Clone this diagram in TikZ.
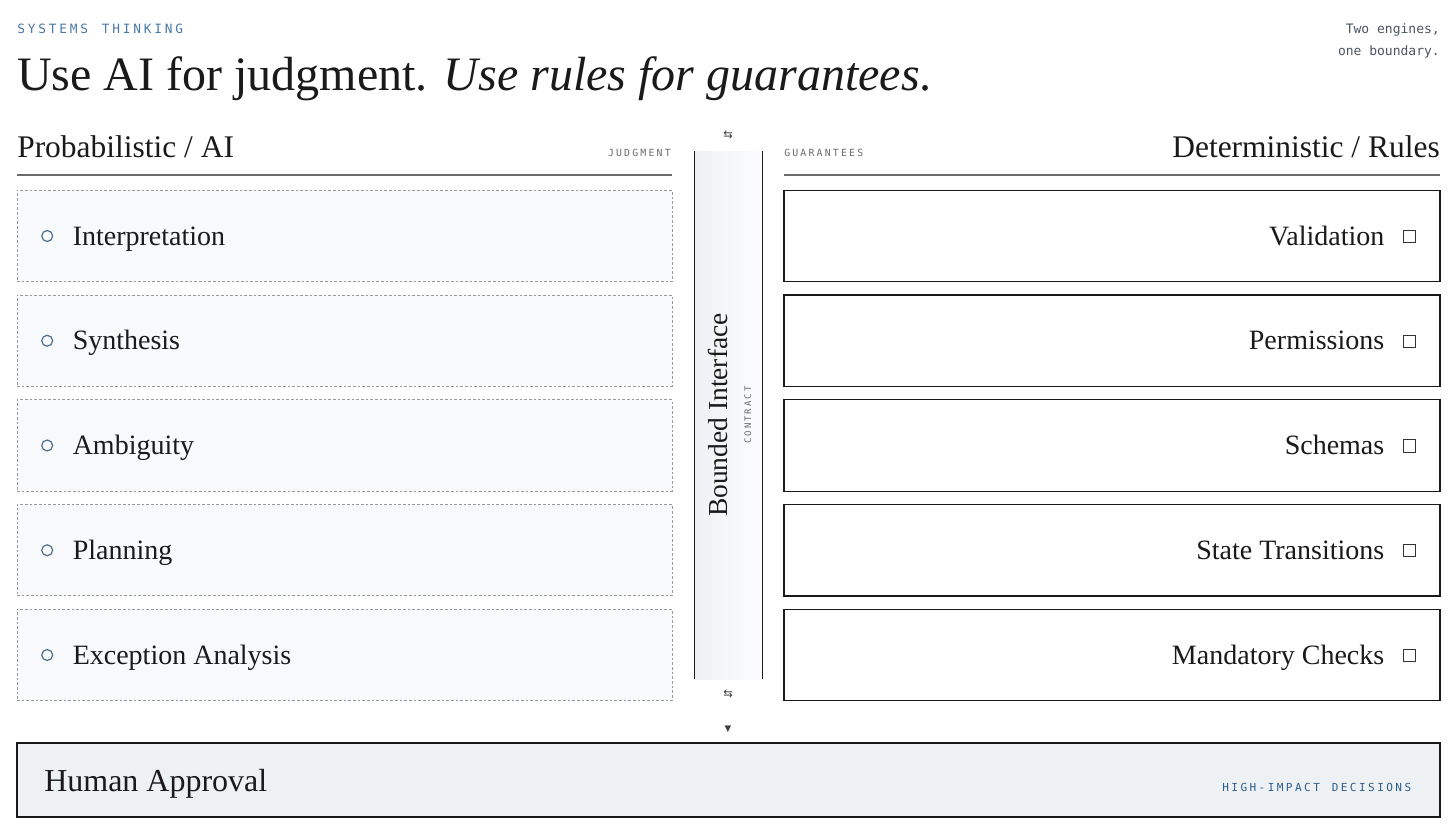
\documentclass[tikz,border=0pt]{standalone}
\usepackage{fontspec}
\setmainfont{Liberation Serif}
\newfontfamily\monofont{DejaVu Sans Mono}
\newfontfamily\tagfont[LetterSpace=22]{DejaVu Sans Mono}
\newfontfamily\symfont{DejaVu Sans}
\usepackage{tikz}
\usetikzlibrary{positioning}
\definecolor{inkblue}{HTML}{4A78A8}
\definecolor{deepblue}{HTML}{2C5C8A}
\definecolor{slate}{HTML}{4B5563}
\definecolor{taggray}{HTML}{6B6B6B}
\definecolor{aifill}{HTML}{F8F9FB}
\definecolor{humanfill}{HTML}{EEF1F4}
\definecolor{ringblue}{HTML}{4F6F8F}
\definecolor{ink}{HTML}{1A1A1A}
\definecolor{rulegray}{HTML}{6A6A6A}
\newcommand\gap{\kern0.25em\ }

\tikzset{
  aibox/.style={draw=black!40, fill=aifill, line width=0.75pt, dash pattern=on 2pt off 1.5pt,
    minimum width=491.25pt, minimum height=68.6pt, inner sep=0pt},
  rulebox/.style={draw=ink, fill=white, line width=0.8pt,
    minimum width=492pt, minimum height=68.6pt, inner sep=0pt},
  item/.style={inner sep=0pt, text=ink, font=\fontsize{21}{24}\selectfont},
  ring/.style={circle, draw=ringblue, line width=0.9pt, minimum size=8.2pt, inner sep=0pt},
  tick/.style={rectangle, draw=black!80, line width=0.9pt, minimum size=9.2pt, inner sep=0pt},
  tagtext/.style={inner sep=0pt, text=taggray, font=\tagfont\fontsize{7.4}{9}\selectfont},
  header/.style={inner sep=0pt, text=ink, font=\fontsize{23.6}{27}\selectfont},
  headrule/.style={draw=rulegray, line width=1.3pt},
}

\begin{document}
\begin{tikzpicture}[line cap=butt, line join=miter, x=0.75pt, y=-0.75pt]
\useasboundingbox (0,0) rectangle (1456,832);
\fill[white] (0,0) rectangle (1456,832);

% title block
\node[inner sep=0pt, anchor=base west, text=inkblue, font=\tagfont\fontsize{9.6}{11}\selectfont] (kicker) at (17,33) {SYSTEMS\gap THINKING};
\node[inner sep=0pt, anchor=base west, text=ink, font=\fontsize{36}{42}\selectfont] (title) at (17,90) {Use AI for judgment. \textit{Use rules for guarantees}.};
\node[inner sep=0pt, anchor=base east, text=slate, font=\monofont\fontsize{9.75}{12}\selectfont] (motto1) at (1440,33) {Two engines,};
\node[inner sep=0pt, anchor=base east, text=slate, font=\monofont\fontsize{9.75}{12}\selectfont] (motto2) at (1440,55) {one boundary.};

% column headers
\node[header, anchor=base west] (aihead) at (17,157) {Probabilistic / AI};
\node[tagtext, anchor=base east] (aitag) at (671,156) {JUDGMENT};
\draw[headrule] (17,175) -- (672,175);
\node[header, anchor=base east] (rulehead) at (1440,157) {Deterministic / Rules};
\node[tagtext, anchor=base west] (ruletag) at (784,156) {GUARANTEES};
\draw[headrule] (784,175) -- (1440,175);

% probabilistic side
\node[aibox] (interp) at (344.5,236) {};
\node[aibox] (synth) at (344.5,340.75) {};
\node[aibox] (ambig) at (344.5,445.5) {};
\node[aibox] (plan) at (344.5,550.25) {};
\node[aibox] (except) at (344.5,655) {};
\foreach \b/\t in {interp/Interpretation, synth/Synthesis, ambig/Ambiguity, plan/Planning, except/Exception Analysis}{
  \node[ring] (\b-ring) at ([shift={(30.7,0)}]\b.west) {};
  \node[item, anchor=base west] (\b-text) at ([shift={(56,9)}]\b.west) {\t};
}

% deterministic side
\node[rulebox] (valid) at (1112,236) {};
\node[rulebox] (perm) at (1112,340.75) {};
\node[rulebox] (schema) at (1112,445.5) {};
\node[rulebox] (state) at (1112,550.25) {};
\node[rulebox] (checks) at (1112,655) {};
\foreach \b/\t in {valid/Validation, perm/Permissions, schema/Schemas, state/State Transitions, checks/Mandatory Checks}{
  \node[tick] (\b-tick) at ([shift={(-31,0.5)}]\b.east) {};
  \node[item, anchor=base east] (\b-text) at ([shift={(-56,9)}]\b.east) {\t};
}

% bounded interface
\node[minimum width=50.25pt, minimum height=396pt, inner sep=0pt, left color=humanfill, right color=white!60!aifill] (iface) at (728.5,415) {};
\draw[line width=0.9pt, ink] (iface.north west) -- (iface.south west);
\draw[line width=0.9pt, ink] (iface.north east) -- (iface.south east);
\node[inner sep=0pt, anchor=base, rotate=90, text=ink, font=\fontsize{20.6}{24}\selectfont] (iface-label) at (727,415) {Bounded Interface};
\node[inner sep=0pt, anchor=base, rotate=90, text=taggray, font=\tagfont\fontsize{6.75}{8}\selectfont] (iface-tag) at (751,415) {CONTRACT};
\node[inner sep=0pt, text=black!75, font=\symfont\fontsize{8.5}{9}\selectfont] (swap-top) at (728,135) {⇆};
\node[inner sep=0pt, text=black!75, font=\symfont\fontsize{8.5}{9}\selectfont] (swap-bot) at (728,694) {⇆};
\node[inner sep=0pt, text=black!75, font=\symfont\fontsize{6.5}{7}\selectfont] (down) at (728,729) {▼};

% human approval
\node[draw=ink, fill=humanfill, line width=0.9pt, minimum width=1067.25pt, minimum height=55.5pt, inner sep=0pt] (human) at (728.5,780) {};
\node[inner sep=0pt, anchor=base west, text=ink, font=\fontsize{24}{28}\selectfont] (human-text) at (44,791) {Human Approval};
\node[inner sep=0pt, anchor=base east, text=deepblue, font=\tagfont\fontsize{8.3}{10}\selectfont] (human-tag) at (1411.5,791) {HIGH-IMPACT\gap DECISIONS};
\end{tikzpicture}
\end{document}
